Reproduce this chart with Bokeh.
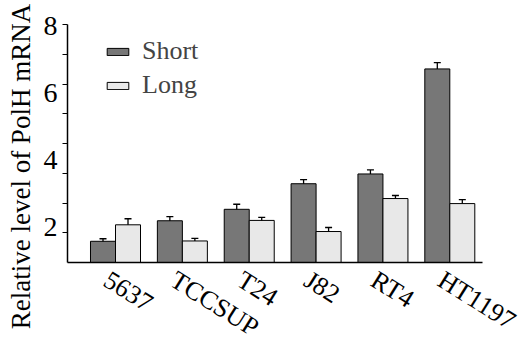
import numpy as np
from bokeh.plotting import figure
from bokeh.models import (ColumnDataSource, Range1d, FixedTicker, Whisker, TeeHead,
                          Legend, LegendItem, LinearAxis, CustomJSTickFormatter)
from bokeh.embed import file_html
from bokeh.resources import INLINE

# ---- data ----
cells = ["5637", "TCCSUP", "T24", "J82", "RT4", "HT1197"]
short_vals = [1.59, 2.20, 2.54, 3.30, 3.59, 6.71]
long_vals = [2.08, 1.60, 2.21, 1.88, 2.86, 2.71]
short_err = [0.075, 0.12, 0.15, 0.12, 0.12, 0.19]
long_err = [0.18, 0.075, 0.09, 0.12, 0.09, 0.12]
y_ticks = [2, 4, 6, 8]
y_title = "Relative level of PolH mRNA"

# ---- style ----
FONT = "'Liberation Serif'"
SHORT_COLOR = "#777777"
LONG_COLOR = "#e8e8e8"
BAR_W = 0.374
Y0, Y1 = 0.96, 8.03
X0, X1 = -0.718, 5.489
LABEL_SHIFT = 0.14        # horizontal shift of category labels (category units)
TITLE_FRAC = 0.403        # vertical centre of the y title, as fraction of axis height

idx = np.arange(len(cells))
lo = lambda v, e: [a - b for a, b in zip(v, e)]
hi = lambda v, e: [a + b for a, b in zip(v, e)]

src_s = ColumnDataSource(dict(x=idx - BAR_W / 2, top=short_vals,
                              lower=lo(short_vals, short_err), upper=hi(short_vals, short_err)))
src_l = ColumnDataSource(dict(x=idx + BAR_W / 2, top=long_vals,
                              lower=lo(long_vals, long_err), upper=hi(long_vals, long_err)))

p = figure(frame_width=415, frame_height=238, output_backend="svg", toolbar_location=None,
           x_range=Range1d(X0, X1), y_range=Range1d(Y0, Y1),
           min_border_left=67, min_border_right=43, min_border_top=24, min_border_bottom=77)
p.outline_line_color = None
p.grid.visible = False

r_s = p.vbar(x="x", top="top", bottom=0, width=BAR_W, source=src_s,
             fill_color=SHORT_COLOR, line_color="black", line_width=1)
r_l = p.vbar(x="x", top="top", bottom=0, width=BAR_W, source=src_l,
             fill_color=LONG_COLOR, line_color="black", line_width=1)

for src in (src_s, src_l):
    w = Whisker(base="x", lower="lower", upper="upper", source=src,
                line_color="black", line_width=1.3,
                upper_head=TeeHead(size=7, line_color="black", line_width=1.3),
                lower_head=TeeHead(size=7, line_color="black", line_width=1.3))
    p.add_layout(w)

# y axis
yax = p.yaxis[0]
minor = [Y0 + k * (Y1 - Y0) / 8 for k in range(1, 9)]
yax.ticker = FixedTicker(ticks=y_ticks, minor_ticks=minor)
yax.major_tick_out = 0
yax.major_tick_in = 0
yax.minor_tick_out = 5
yax.minor_tick_in = 0
yax.major_label_standoff = 5
yax.major_label_text_font = FONT
yax.major_label_text_font_size = "28px"
yax.major_label_text_color = "black"
yax.axis_line_color = "black"
yax.axis_line_width = 1.5
yax.minor_tick_line_color = "black"

# y title, drawn as the single label of an outer, otherwise invisible axis
tax = LinearAxis(ticker=FixedTicker(ticks=[Y0 + TITLE_FRAC * (Y1 - Y0)], minor_ticks=[]),
                 formatter=CustomJSTickFormatter(args=dict(t=y_title), code="return t"),
                 axis_line_color=None, major_tick_line_color=None, minor_tick_line_color=None,
                 major_tick_out=0, major_tick_in=0, minor_tick_out=0, minor_tick_in=0,
                 major_label_standoff=4, major_label_orientation="vertical",
                 major_label_text_font=FONT, major_label_text_font_size="27px",
                 major_label_text_color="black")
p.add_layout(tax, "left")

# x axis
xax = p.xaxis[0]
xax.ticker = FixedTicker(ticks=list(idx - LABEL_SHIFT), minor_ticks=[])
xax.formatter = CustomJSTickFormatter(args=dict(labels=cells, shift=LABEL_SHIFT),
                                      code="return labels[Math.round(tick + shift)]")
xax.major_tick_out = 0
xax.major_tick_in = 0
xax.minor_tick_out = 0
xax.major_label_orientation = -0.56
xax.major_label_standoff = 15
xax.major_label_text_font = FONT
xax.major_label_text_font_size = "26px"
xax.major_label_text_color = "black"
xax.axis_line_color = "black"
xax.axis_line_width = 1.5

legend = Legend(items=[LegendItem(label="Short", renderers=[r_s]),
                       LegendItem(label="Long", renderers=[r_l])],
                location=(37, 162), padding=0, margin=0, spacing=4,
                glyph_width=27, glyph_height=9, label_standoff=11,
                label_text_font=FONT, label_text_font_size="26px",
                border_line_color=None, background_fill_alpha=0)
p.add_layout(legend)

open("out.html", "w").write(file_html(p, INLINE))
